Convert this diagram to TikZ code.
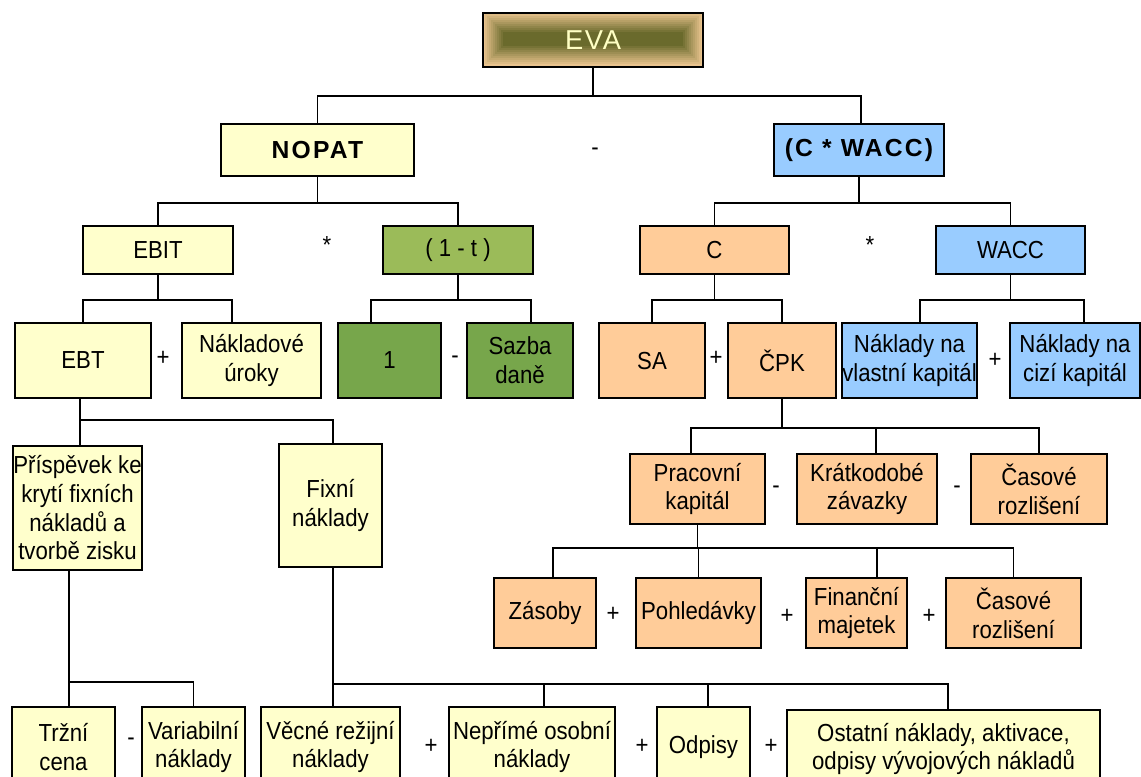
\documentclass[tikz,border=0pt]{standalone}
\usepackage{fontspec}
\setmainfont{Liberation Sans}[FakeStretch=0.9]
\newfontfamily\widefont{Liberation Sans}[LetterSpace=9]
\newfontfamily\evafont{Liberation Sans}[LetterSpace=6]
\usetikzlibrary{shadows}
\definecolor{yel}{HTML}{FFFFCC}
\definecolor{grn}{HTML}{9BBB59}
\definecolor{dgrn}{HTML}{77A64B}
\definecolor{org}{HTML}{FFCC99}
\definecolor{blu}{HTML}{99CCFF}
\definecolor{evaout}{HTML}{EAC48F}
\definecolor{evain}{HTML}{6A6A2C}
\definecolor{evatxt}{HTML}{FFFFC4}
\begin{document}
\begin{tikzpicture}[x=0.75pt,y=-0.75pt,
  font=\fontsize{18.5}{21.5}\selectfont,
  box/.style={draw=black, line width=1.4pt, align=center, inner sep=0pt,
    drop shadow={shadow xshift=0.9pt, shadow yshift=-0.9pt, fill=black!70, opacity=1}},
  sz/.style 2 args={minimum width=#1*0.75pt, minimum height=#2*0.75pt},
  op/.style={inner sep=0pt},
  con/.style={line width=1.4pt}]
\useasboundingbox (0,0) rectangle (1141,776);
% EVA frame shading
\foreach \i in {0,...,10}{
  \pgfmathsetmacro\p{100-10*\i}
  \fill[evaout!\p!evain] (483+2*\i,12+2*\i) rectangle (703-2*\i,66-2*\i);
}
\node[draw=black, line width=1.4pt, sz={220}{54}, inner sep=0pt, text=evatxt,
  font=\evafont\fontsize{20.5}{24}\selectfont] (eva) at (593,40) {EVA};

% level 2
\node[box, fill=yel, sz={193}{52}] (nopat) at (317.5,150) {\widefont\bfseries NOPAT};
\node[box, fill=blu, sz={170}{52}] (cw) at (859,150) {\widefont\bfseries (C * WACC)};
% level 3
\node[box, fill=yel, sz={150}{48}] (ebit) at (158,250) {EBIT};
\node[box, fill=grn, sz={150}{48}] (omt) at (458,250) {( 1 - t )};
\node[box, fill=org, sz={149}{48}] (c) at (714.5,250) {C};
\node[box, fill=blu, sz={149}{48}] (wacc) at (1010.5,250) {WACC};
% level 4
\node[box, fill=yel, sz={136}{75}] (ebt) at (83,360.5) {EBT};
\node[box, fill=yel, sz={139}{75}] (nak) at (251.5,360.5) {Nákladové\\úroky};
\node[box, fill=dgrn, sz={103}{75}] (one) at (389.5,360.5) {1};
\node[box, fill=dgrn, sz={106}{75}] (sazba) at (520,360.5) {Sazba\\daně};
\node[box, fill=org, sz={106}{75}] (sa) at (652,360.5) {SA};
\node[box, fill=org, sz={108}{75}] (cpk) at (782,360.5) {ČPK};
\node[box, fill=blu, sz={135}{75}] (nvk) at (909.5,360.5) {Náklady na\\vlastní kapitál};
\node[box, fill=blu, sz={130}{75}] (nck) at (1075,360.5) {Náklady na\\cizí kapitál};
% level 5
\node[box, fill=yel, sz={129}{124}] (prisp) at (77.5,508) {Příspěvek ke\\krytí fixních\\nákladů a\\tvorbě zisku};
\node[box, fill=yel, sz={103}{123}] (fixni) at (330.5,505.5) {Fixní\\náklady};
\node[box, fill=org, sz={135}{70}] (prac) at (697.5,489) {Pracovní\\kapitál};
\node[box, fill=org, sz={140}{70}] (krat) at (867,489) {Krátkodobé\\závazky};
\node[box, fill=org, sz={136}{70}] (cas1) at (1039,489) {Časové\\rozlišení};
% level 6
\node[box, fill=org, sz={102}{70}] (zas) at (545,613) {Zásoby};
\node[box, fill=org, sz={125}{70}] (pohl) at (698.5,613) {Pohledávky};
\node[box, fill=org, sz={101}{70}] (fin) at (856.5,613) {Finanční\\majetek};
\node[box, fill=org, sz={135}{70}] (cas2) at (1013.5,613) {Časové\\rozlišení};
% bottom
\node[box, fill=yel, sz={103}{80}] (trz) at (63.5,747) {Tržní\\cena};
\node[box, fill=yel, sz={103}{80}] (var) at (193.5,747) {Variabilní\\náklady};
\node[box, fill=yel, sz={139}{80}] (vec) at (330.5,747) {Věcné režijní\\náklady};
\node[box, fill=yel, sz={166}{80}] (nep) at (532,747) {Nepřímé osobní\\náklady};
\node[box, fill=yel, sz={93}{80}] (odp) at (703.5,747) {Odpisy};
\node[box, fill=yel, sz={313}{78}] (ost) at (943.5,749) {Ostatní náklady, aktivace,\\odpisy vývojových nákladů};

% operators
\node[op] (o1) at (595,152) {-};
\node[op] (o2) at (327,245) {*};
\node[op] (o3) at (870,245) {*};
\node[op] (o4) at (163,358) {+};
\node[op] (o5) at (455,360) {-};
\node[op] (o6) at (716,358) {+};
\node[op] (o7) at (995,360) {+};
\node[op] (o8) at (776,490) {-};
\node[op] (o9) at (957,490) {-};
\node[op] (o10) at (613,614) {+};
\node[op] (o11) at (787,616) {+};
\node[op] (o12) at (929,616) {+};
\node[op] (o13) at (131,742) {-};
\node[op] (o14) at (431,746) {+};
\node[op] (o15) at (642,746) {+};
\node[op] (o16) at (771,746) {+};

% levels of the bars
\coordinate (y1) at (0,96);
\coordinate (y2) at (0,203);
\coordinate (y3) at (0,300);
\coordinate (y4) at (0,420);
\coordinate (y5) at (0,428);
\coordinate (y6) at (0,548);
\coordinate (y7) at (0,682);
\coordinate (y8) at (0,684);
% offset drop points
\coordinate (cwT) at ([xshift=1.5pt]cw.north);
\coordinate (nakT) at ([xshift=-14.6pt]nak.north);
\coordinate (oneT) at ([xshift=-13.9pt]one.north);
\coordinate (sazT) at ([xshift=8.25pt]sazba.north);
\coordinate (nvkT) at ([xshift=7.9pt]nvk.north);
\coordinate (nckT) at ([xshift=6.75pt]nck.north);
\coordinate (ebtB) at ([xshift=-2.25pt]ebt.south);
\coordinate (prispT) at ([xshift=1.9pt]prisp.north);
\coordinate (prispB) at ([xshift=-6.4pt]prisp.south);
\coordinate (fixT) at ([xshift=1.9pt]fixni.north);
\coordinate (fixB) at ([xshift=1.9pt]fixni.south);
\coordinate (pracT) at ([xshift=-4.9pt]prac.north);
\coordinate (kratT) at ([xshift=6.75pt]krat.north);
\coordinate (zasT) at ([xshift=6pt]zas.north);
\coordinate (finT) at ([xshift=15.4pt]fin.north);
\coordinate (trzT) at ([xshift=4.1pt]trz.north);
\coordinate (vecT) at ([xshift=1.9pt]vec.north);
\coordinate (nepT) at ([xshift=9pt]nep.north);
\coordinate (odpT) at ([xshift=3.4pt]odp.north);
\coordinate (ostT) at ([xshift=3.4pt]ost.north);

% connectors
\draw[con] (eva.south) -- (eva.south |- y1);
\draw[con] (nopat.north) |- (cwT |- y1) -- (cwT);

\draw[con] (nopat.south) -- (nopat.south |- y2);
\draw[con] (ebit.north) |- (omt.north |- y2) -- (omt.north);
\draw[con] (cw.south) -- (cw.south |- y2);
\draw[con] (c.north) |- (wacc.north |- y2) -- (wacc.north);

\draw[con] (ebit.south) -- (ebit.south |- y3);
\draw[con] (ebt.north) |- (nakT |- y3) -- (nakT);
\draw[con] (omt.south) -- (omt.south |- y3);
\draw[con] (oneT) |- (sazT |- y3) -- (sazT);
\draw[con] (c.south) -- (c.south |- y3);
\draw[con] (sa.north) |- (cpk.north |- y3) -- (cpk.north);
\draw[con] (wacc.south) -- (wacc.south |- y3);
\draw[con] (nvkT) |- (nckT |- y3) -- (nckT);

\draw[con] (ebtB) -- (ebtB |- y4);
\draw[con] (prispT) |- (fixT |- y4) -- (fixT);

\draw[con] (cpk.south) -- (cpk.south |- y5);
\draw[con] (pracT) |- (cas1.north |- y5) -- (cas1.north);
\draw[con] (kratT) -- (kratT |- y5);

\draw[con] (prac.south) -- (prac.south |- y6);
\draw[con] (zasT) |- (cas2.north |- y6) -- (cas2.north);
\draw[con] (pohl.north) -- (pohl.north |- y6);
\draw[con] (finT) -- (finT |- y6);

\draw[con] (prispB) -- (prispB |- y7);
\draw[con] (trzT) |- (var.north |- y7) -- (var.north);

\draw[con] (fixB) -- (fixB |- y8);
\draw[con] (vecT) |- (ostT |- y8) -- (ostT);
\draw[con] (nepT) -- (nepT |- y8);
\draw[con] (odpT) -- (odpT |- y8);
\end{tikzpicture}
\end{document}
